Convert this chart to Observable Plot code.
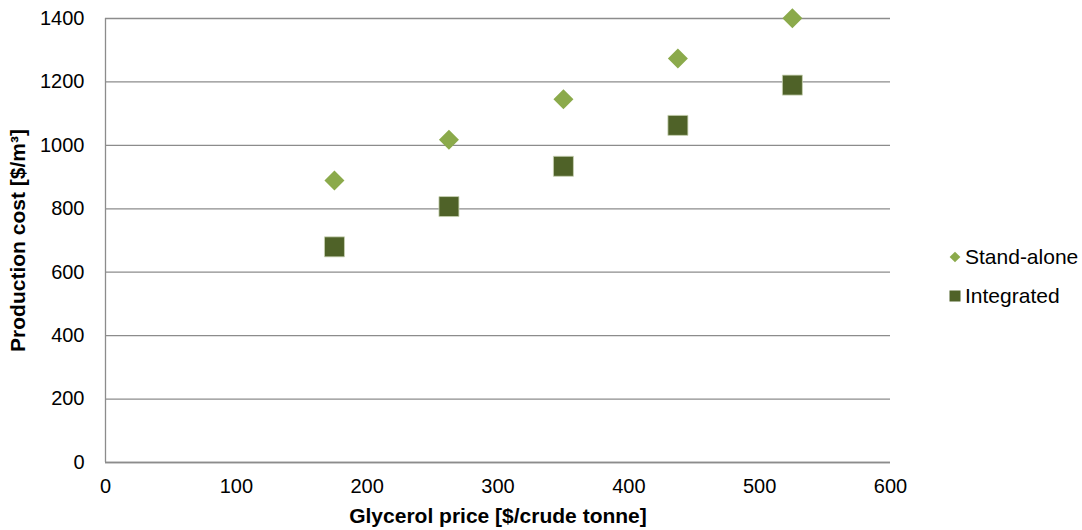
<!DOCTYPE html>
<html>
<head>
<meta charset="utf-8">
<script src="https://cdn.jsdelivr.net/npm/d3@7"></script>
<script src="https://cdn.jsdelivr.net/npm/@observablehq/plot@0.6"></script>
<style>
  body { margin: 0; background: #fff; font-family: "Liberation Sans", Arial, sans-serif; }
  #wrap { position: relative; width: 1082px; height: 530px; }
  #legend { position: absolute; left: 948px; top: 243px; font-size: 21px; color: #000; }
  .item { display: flex; align-items: center; height: 28px; margin-bottom: 11px; }
  .sym { width: 14px; display: flex; justify-content: center; margin-right: 3px; }
  g[aria-label="y-axis label"] text, g[aria-label="x-axis label"] text { font-weight: bold; font-size: 21px; }
</style>
</head>
<body>
<div id="wrap">
  <div id="chart"></div>
  <div id="legend"></div>
</div>
<script>
const glycerolPrice = [175, 262.5, 350, 437.5, 525];
const standAlone = [889, 1018, 1145, 1274, 1401];
const integrated = [680, 807, 934, 1063, 1190];
const seriesNames = ["Stand-alone", "Integrated"];
const seriesColors = ["#8BAA4B", "#4F6228"];
const xTicks = [0, 100, 200, 300, 400, 500, 600];
const yTicks = [0, 200, 400, 600, 800, 1000, 1200, 1400];

const dataSA = glycerolPrice.map((x, i) => ({x, y: standAlone[i]}));
const dataInt = glycerolPrice.map((x, i) => ({x, y: integrated[i]}));

const plot = Plot.plot({
  width: 1082,
  height: 530,
  marginLeft: 105,
  marginRight: 192,
  marginTop: 18,
  marginBottom: 68,
  style: { fontSize: "20px", fontFamily: '"Liberation Sans", Arial, sans-serif', color: "#000", background: "#fff" },
  x: { domain: [0, 600] },
  y: { domain: [0, 1400] },
  marks: [
    Plot.gridY(yTicks, { stroke: "#8c8c8c", strokeOpacity: 1, strokeWidth: 1.3 }),
    Plot.axisX(xTicks, { tickSize: 0, tickPadding: 16, tickFormat: d => String(d), fontSize: 20,
      label: "Glycerol price [$/crude tonne]", labelAnchor: "center", labelArrow: "none", labelOffset: 60 }),
    Plot.axisY(yTicks, { tickSize: 0, tickPadding: 21, tickFormat: d => String(d), fontSize: 20,
      label: "Production cost [$/m³]", labelAnchor: "center", labelArrow: "none", labelOffset: 95 }),
    Plot.ruleX([0], { stroke: "#8c8c8c", strokeWidth: 1.3 }),
    Plot.ruleY([0], { stroke: "#8c8c8c", strokeWidth: 1.3 }),
    Plot.dot(dataSA, { x: "x", y: "y", symbol: "square", rotate: 45, r: 7.98, fill: seriesColors[0], stroke: "none" }),
    Plot.dot(dataInt, { x: "x", y: "y", symbol: "square", r: 11.28, fill: seriesColors[1], stroke: "#c9d3b4", strokeWidth: 0.8 })
  ]
});
document.getElementById("chart").appendChild(plot);

const legend = document.getElementById("legend");
seriesNames.forEach((name, i) => {
  const item = document.createElement("div");
  item.className = "item";
  const sym = i === 0
    ? `<svg width="12" height="12"><rect x="2.2" y="2.2" width="7.6" height="7.6" fill="${seriesColors[0]}" transform="rotate(45 6 6)"/></svg>`
    : `<svg width="12" height="12"><rect x="0.5" y="0.5" width="11" height="11" fill="${seriesColors[1]}"/></svg>`;
  item.innerHTML = `<span class="sym">${sym}</span><span>${name}</span>`;
  legend.appendChild(item);
});
</script>
</body>
</html>
